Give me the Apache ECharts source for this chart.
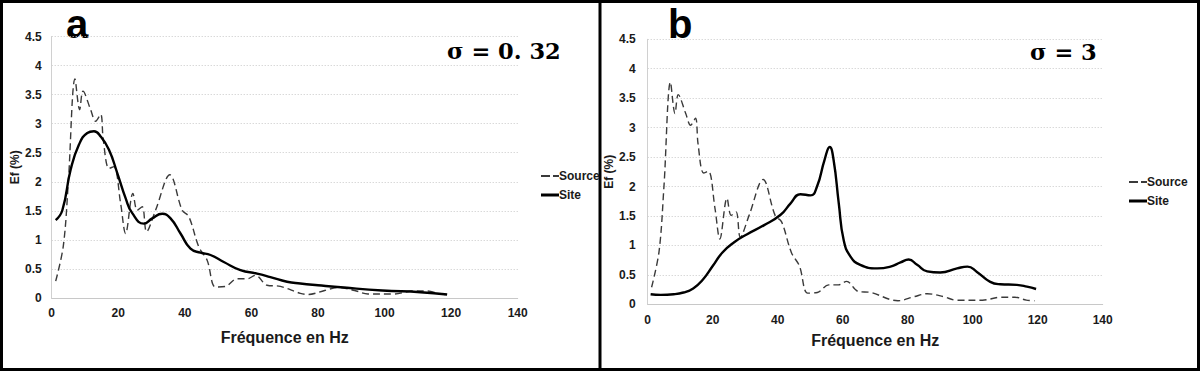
<!DOCTYPE html>
<html>
<head>
<meta charset="utf-8">
<script src="https://cdn.jsdelivr.net/npm/echarts@6/dist/echarts.min.js"></script>
<style>
html,body{margin:0;padding:0;background:#fff;}
#chart{width:1200px;height:371px;}
</style>
</head>
<body>
<div id="chart"></div>
<script>
// ---- data ----
const xTicks = [0, 20, 40, 60, 80, 100, 120, 140];
const yTicks = [0, 0.5, 1, 1.5, 2, 2.5, 3, 3.5, 4, 4.5];

const sourceFreq = [1.2, 3.5, 5.0, 7.0, 8.4, 9.4, 11.7, 13.2, 14.7, 15.5, 17.2, 18.7, 20.7, 22.2, 24.4, 25.7, 27.2, 28.5, 31.2, 35.5, 39.2, 41.2, 44.2, 46.7, 49.2, 52.2, 55.7, 58.7, 61.2, 64.7, 68.7, 74.7, 77, 82, 86, 91, 95, 103, 108.5, 113, 116.5, 119];
const sourceEf   = [0.29, 0.9, 2.0, 3.77, 3.24, 3.56, 3.24, 3.04, 3.16, 2.72, 2.23, 2.26, 1.63, 1.11, 1.80, 1.51, 1.57, 1.14, 1.51, 2.12, 1.51, 1.40, 0.88, 0.65, 0.19, 0.20, 0.33, 0.33, 0.39, 0.22, 0.20, 0.08, 0.06, 0.13, 0.18, 0.13, 0.07, 0.07, 0.12, 0.12, 0.07, 0.06];

const siteAFreq = [1.2, 3.2, 5.7, 8.2, 10.7, 12.7, 14.7, 17.2, 19.7, 22.2, 24.2, 27.7, 30.2, 33.2, 35.7, 38.7, 41.7, 44.7, 47.7, 51.7, 56.7, 61.7, 65.7, 70.7, 74.7, 80, 87.8, 99.3, 110.8, 118.8];
const siteAEf   = [1.34, 1.51, 2.21, 2.64, 2.84, 2.87, 2.78, 2.55, 2.15, 1.72, 1.46, 1.28, 1.37, 1.45, 1.37, 1.11, 0.85, 0.78, 0.74, 0.62, 0.48, 0.42, 0.36, 0.28, 0.25, 0.22, 0.18, 0.13, 0.10, 0.06];

const siteBFreq = [0.9, 4, 8, 11, 14, 17, 20, 23, 26.5, 30.6, 35.7, 40.9, 43.9, 47, 50.1, 52.1, 54.4, 56, 57.2, 58.8, 60.3, 62.4, 65.4, 70.6, 74.7, 77.8, 80.3, 82.9, 86, 90, 95.2, 98.4, 101.3, 105.4, 108.5, 113.6, 116.7, 119.5];
const siteBEf   = [0.17, 0.16, 0.17, 0.20, 0.27, 0.42, 0.65, 0.88, 1.05, 1.19, 1.34, 1.52, 1.71, 1.87, 1.85, 2.0, 2.45, 2.67, 2.45, 1.71, 1.09, 0.81, 0.67, 0.61, 0.64, 0.71, 0.76, 0.67, 0.56, 0.54, 0.61, 0.64, 0.55, 0.38, 0.34, 0.33, 0.30, 0.26];

const panelLabels = ['a', 'b'];
const sigmaLabels = ['\u03C3 = 0. 32', '\u03C3 = 3'];
const seriesNames = ['Source', 'Site'];
const xTitle = 'Fréquence en Hz';
const yTitle = 'Ef (%)';

// ---- helpers ----
const pairs = (xs, ys) => xs.map((x, i) => [x, ys[i]]);
const FONT = 'Liberation Sans, Arial, sans-serif';
const SERIF = '"DejaVu Serif", "Liberation Serif", serif';
const labelStyle = {color: '#1a1a1a', fontFamily: FONT, fontWeight: 'bold', fontSize: 12};

function xAxisCfg(gridIndex, gap, margin) {
  return {
    type: 'value', gridIndex, min: xTicks[0], max: xTicks[xTicks.length - 1],
    interval: xTicks[1] - xTicks[0],
    name: xTitle, nameLocation: 'middle', nameGap: gap,
    nameTextStyle: {color: '#1a1a1a', fontFamily: FONT, fontWeight: 'bold', fontSize: 16},
    axisLine: {show: true, lineStyle: {color: '#c8c8c8', width: 1}},
    axisTick: {show: false},
    splitLine: {show: false},
    axisLabel: Object.assign({margin}, labelStyle)
  };
}
function yAxisCfg(gridIndex, gap, margin) {
  return {
    type: 'value', gridIndex, min: yTicks[0], max: yTicks[yTicks.length - 1],
    interval: yTicks[1] - yTicks[0],
    name: yTitle, nameLocation: 'middle', nameGap: gap, nameRotate: 90,
    nameTextStyle: {color: '#1a1a1a', fontFamily: FONT, fontWeight: 'bold', fontSize: 12},
    axisLine: {show: true, lineStyle: {color: '#d0d0d0', width: 1}},
    axisTick: {show: false},
    splitLine: {show: true, lineStyle: {color: '#c8c8c8', type: [1, 2], width: 1}},
    axisLabel: Object.assign({margin}, labelStyle)
  };
}
function sourceSeries(idx) {
  return {
    name: seriesNames[0], type: 'line', xAxisIndex: idx, yAxisIndex: idx,
    data: pairs(sourceFreq, sourceEf), symbol: 'none', smooth: 0.35,
    lineStyle: {color: '#3a3a3a', width: 1.4, type: [7, 4]},
    itemStyle: {color: '#3a3a3a'}, z: 2
  };
}
function siteSeries(idx, fx, fy) {
  return {
    name: seriesNames[1], type: 'line', xAxisIndex: idx, yAxisIndex: idx,
    data: pairs(fx, fy), symbol: 'none', smooth: 0.5,
    lineStyle: {color: '#000', width: 2.4, type: 'solid'},
    itemStyle: {color: '#000'}, z: 3
  };
}
const dashIcon = 'path://M0,0.5H9V2.5H0Z M12,0.5H18V2.5H12Z M0,0H0.01V3H0Z';
const solidIcon = 'path://M0,0H18V3H0Z';
function legendCfg(left, top) {
  return {
    orient: 'vertical', left, top, itemWidth: 18, itemHeight: 3, itemGap: 5,
    data: [
      {name: seriesNames[0], icon: dashIcon, itemStyle: {color: '#3a3a3a'}},
      {name: seriesNames[1], icon: solidIcon, itemStyle: {color: '#000'}}
    ],
    textStyle: {color: '#1a1a1a', fontFamily: FONT, fontWeight: 'bold', fontSize: 12, padding: [0, 0, 0, -5], lineHeight: 14}
  };
}

const chart = echarts.init(document.getElementById('chart'), null, {renderer: 'svg'});
chart.setOption({
  backgroundColor: '#fff',
  animation: false,
  grid: [
    {left: 51.7, top: 36.5, width: 466, height: 261.5},
    {left: 647.7, top: 39.3, width: 455, height: 265}
  ],
  xAxis: [xAxisCfg(0, 31, 9), xAxisCfg(1, 28, 10)],
  yAxis: [yAxisCfg(0, 29, 10), yAxisCfg(1, 32, 12)],
  legend: [legendCfg(536, 164), legendCfg(1124, 170)],
  series: [
    sourceSeries(0), siteSeries(0, siteAFreq, siteAEf),
    sourceSeries(1), siteSeries(1, siteBFreq, siteBEf)
  ],
  graphic: [
    {type: 'rect', shape: {x: 1.5, y: 1.5, width: 1197, height: 368}, style: {fill: 'none', stroke: '#000', lineWidth: 3}, silent: true},
    {type: 'line', shape: {x1: 600, y1: 0, x2: 600, y2: 371}, style: {stroke: '#000', lineWidth: 3}, silent: true},
    {type: 'text', left: 66, top: 4, style: {text: panelLabels[0], font: 'bold 40px ' + FONT, lineHeight: 32, fill: '#000'}},
    {type: 'text', left: 668, top: 4, style: {text: panelLabels[1], font: 'bold 40px ' + FONT, lineHeight: 32, fill: '#000'}},
    {type: 'text', left: 447, top: 39, style: {text: sigmaLabels[0], font: 'bold 22.5px ' + SERIF, lineHeight: 22.5, fill: '#000'}},
    {type: 'text', left: 1030, top: 40, style: {text: sigmaLabels[1], font: 'bold 22.5px ' + SERIF, lineHeight: 22.5, fill: '#000'}}
  ]
});
</script>
</body>
</html>
